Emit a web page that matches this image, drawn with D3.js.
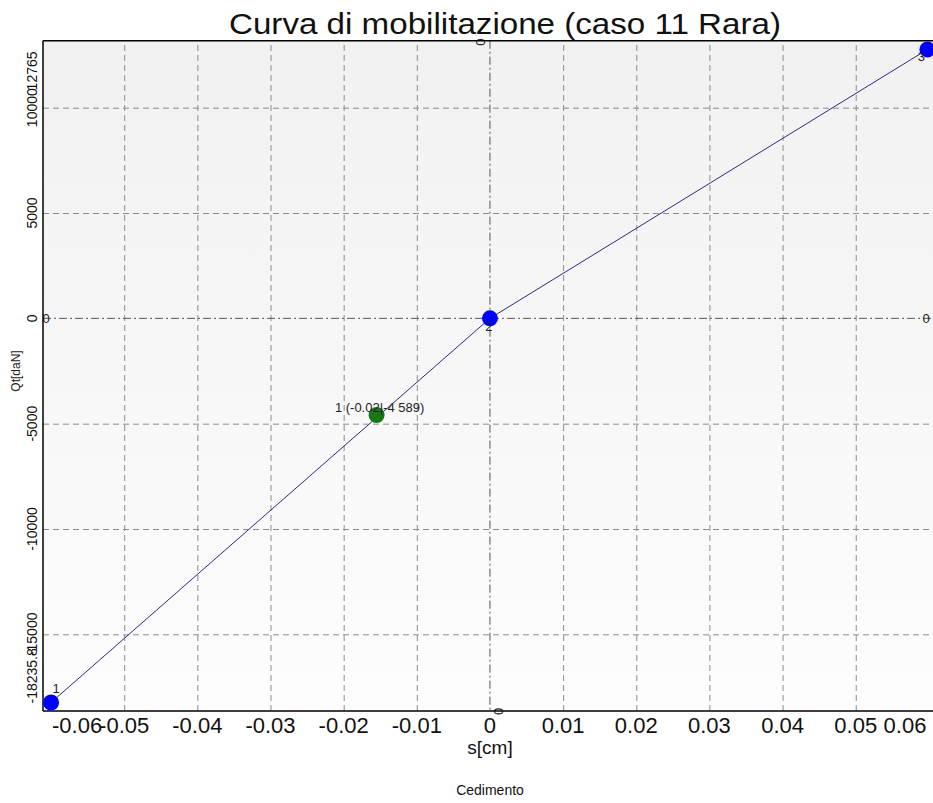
<!DOCTYPE html>
<html>
<head>
<meta charset="utf-8">
<script src="https://cdn.jsdelivr.net/npm/d3@7/dist/d3.min.js"></script>
<style>
  html, body { margin: 0; padding: 0; background: #ffffff; }
  svg { display: block; font-family: "Liberation Sans", Arial, sans-serif; }
</style>
</head>
<body>
<svg id="chart" width="933" height="803"></svg>
<script>
// ---- data ----
const titleText = "Curva di mobilitazione (caso 11 Rara)";
const xAxisTitle = "s[cm]";
const yAxisTitle = "Qt[daN]";
const bottomCaption = "Cedimento";

const sValues = [-0.0600, 0, 0.0598];          // s[cm]
const qtValues = [-18235.8, 0, 12765];         // Qt[daN]
const pointLabels = ["1", "2", "3"];

const highlightS = [-0.0155];
const highlightQt = [-4589];
const highlightLabels = ["1 (-0.02|-4 589)"];

const xTicks = [-0.05, -0.04, -0.03, -0.02, -0.01, 0, 0.01, 0.02, 0.03, 0.04, 0.05];
const xTickLabels = ["-0.05", "-0.04", "-0.03", "-0.02", "-0.01", "0", "0.01", "0.02", "0.03", "0.04", "0.05"];
const yTicks = [-15000, -10000, -5000, 0, 5000, 10000];
const yTickLabels = ["-15000", "-10000", "-5000", "0", "5000", "10000"];
const xExtremeLabels = ["-0.06", "0.06"];
const yExtremeLabels = ["-18235.8", "12765"];

// ---- layout ----
const svg = d3.select("#chart");
const pLeft = 43, pRight = 934, pTop = 40.7, pBottom = 711;

const x = d3.scaleLinear().domain([-0.0611, 0.0607]).range([pLeft, pRight]);
const y = d3.scaleLinear().domain([-18640, 13180]).range([pBottom, pTop]);

const defs = svg.append("defs");
const grad = defs.append("linearGradient").attr("id", "bg").attr("x1", 0).attr("y1", 0).attr("x2", 0).attr("y2", 1);
grad.append("stop").attr("offset", "0%").attr("stop-color", "#f1f1f1");
grad.append("stop").attr("offset", "100%").attr("stop-color", "#fdfdfd");
defs.append("clipPath").attr("id", "clip").append("rect")
  .attr("x", pLeft).attr("y", pTop).attr("width", pRight - pLeft).attr("height", pBottom - pTop);

svg.append("rect").attr("x", pLeft).attr("y", pTop).attr("width", pRight - pLeft).attr("height", pBottom - pTop)
  .attr("fill", "url(#bg)");

const plot = svg.append("g").attr("clip-path", "url(#clip)");

// grid (vertical)
const xGrid = d3.axisBottom(x).tickValues(xTicks.filter(d => d !== 0)).tickSize(-(pBottom - pTop)).tickFormat("");
plot.append("g").attr("transform", `translate(0,${pBottom})`).call(xGrid)
  .call(g => g.select(".domain").remove())
  .call(g => g.selectAll("line").attr("stroke", "#8c8c8c").attr("stroke-width", 1).attr("stroke-dasharray", "6,4"));
// grid (horizontal)
const yGrid = d3.axisLeft(y).tickValues(yTicks.filter(d => d !== 0)).tickSize(-(pRight - pLeft)).tickFormat("");
plot.append("g").attr("transform", `translate(${pLeft},0)`).call(yGrid)
  .call(g => g.select(".domain").remove())
  .call(g => g.selectAll("line").attr("stroke", "#8c8c8c").attr("stroke-width", 1).attr("stroke-dasharray", "6,4"));

// zero lines (dash-dot)
plot.append("line").attr("x1", pLeft).attr("x2", pRight).attr("y1", y(0)).attr("y2", y(0))
  .attr("stroke", "#555").attr("stroke-width", 1).attr("stroke-dasharray", "8,3,2,3");
plot.append("line").attr("x1", x(0)).attr("x2", x(0)).attr("y1", pTop).attr("y2", pBottom)
  .attr("stroke", "#555").attr("stroke-width", 1).attr("stroke-dasharray", "8,3,2,3");

// small "0" markers on zero lines
const zeroMarks = [
  {px: x(0) - 10, py: pTop + 1.5, rot: -90},
  {px: x(0) + 8, py: pBottom + 0.5, rot: -90},
  {px: pLeft + 3, py: y(0), rot: 0},
  {px: pRight - 8, py: y(0), rot: 0}
];
svg.selectAll(".zm").data(zeroMarks).enter().append("text")
  .attr("transform", d => `translate(${d.px},${d.py}) rotate(${d.rot})`)
  .attr("text-anchor", "middle").attr("dy", "0.35em")
  .attr("font-size", 13).attr("fill", "#222").text("0");

// line
const pts = sValues.map((s, i) => ({s, q: qtValues[i], label: pointLabels[i]}));
plot.append("path").datum(pts)
  .attr("d", d3.line().x(d => x(d.s)).y(d => y(d.q)))
  .attr("fill", "none").attr("stroke", "#2b2b85").attr("stroke-width", 1);

// border
svg.append("line").attr("x1", pLeft).attr("x2", pRight).attr("y1", pTop).attr("y2", pTop).attr("stroke", "#000").attr("stroke-width", 1.5);
svg.append("line").attr("x1", pLeft).attr("x2", pRight).attr("y1", pBottom).attr("y2", pBottom).attr("stroke", "#000").attr("stroke-width", 1.5);
svg.append("line").attr("x1", pLeft).attr("x2", pLeft).attr("y1", pTop).attr("y2", pBottom).attr("stroke", "#000").attr("stroke-width", 1.5);

// points
svg.selectAll(".pt").data(pts).enter().append("circle")
  .attr("cx", d => x(d.s)).attr("cy", d => y(d.q)).attr("r", 8)
  .attr("fill", "#0000ff");
const labelOffsets = [[5, -9], [-1, 13], [-6, 12]];
svg.selectAll(".pl").data(pts).enter().append("text")
  .attr("x", (d, i) => x(d.s) + labelOffsets[i][0]).attr("y", (d, i) => y(d.q) + labelOffsets[i][1])
  .attr("font-size", 13).attr("fill", "#222").attr("text-anchor", "middle").text(d => d.label);

// highlight point
const hl = highlightS.map((s, i) => ({s, q: highlightQt[i], label: highlightLabels[i]}));
svg.selectAll(".hl").data(hl).enter().append("circle")
  .attr("cx", d => x(d.s)).attr("cy", d => y(d.q)).attr("r", 8).attr("fill", "#187818");
svg.selectAll(".hlt").data(hl).enter().append("text")
  .attr("x", d => x(d.s) + 3).attr("y", d => y(d.q) - 3)
  .attr("text-anchor", "middle").attr("font-size", 13).attr("fill", "#222").text(d => d.label);

// x tick labels
svg.selectAll(".xt").data(xTicks).enter().append("text")
  .attr("x", d => x(d)).attr("y", 733)
  .attr("text-anchor", "middle").attr("font-size", 22).attr("fill", "#111")
  .text((d, i) => xTickLabels[i]);
svg.append("text").attr("x", x(sValues[0]) + 1).attr("y", 733).attr("text-anchor", "start")
  .attr("font-size", 22).attr("fill", "#111").text(xExtremeLabels[0]);
svg.append("text").attr("x", x(sValues[2]) - 1).attr("y", 733).attr("text-anchor", "end")
  .attr("font-size", 22).attr("fill", "#111").text(xExtremeLabels[1]);

// y tick labels (rotated)
svg.selectAll(".yt").data(yTicks).enter().append("text")
  .attr("transform", d => `translate(37,${y(d)}) rotate(-90)`)
  .attr("text-anchor", "middle").attr("font-size", 14).attr("fill", "#111")
  .text((d, i) => yTickLabels[i]);
svg.append("text").attr("transform", `translate(37,${y(qtValues[0]) + 1}) rotate(-90)`)
  .attr("text-anchor", "start").attr("font-size", 14).attr("fill", "#111").text(yExtremeLabels[0]);
svg.append("text").attr("transform", `translate(37,${y(qtValues[2]) + 2}) rotate(-90)`)
  .attr("text-anchor", "end").attr("font-size", 14).attr("fill", "#111").text(yExtremeLabels[1]);

// titles
svg.append("text").attr("x", 505).attr("y", 34).attr("text-anchor", "middle")
  .attr("font-size", 30).attr("fill", "#111")
  .attr("textLength", 552).attr("lengthAdjust", "spacingAndGlyphs").text(titleText);
svg.append("text").attr("x", 490).attr("y", 754).attr("text-anchor", "middle")
  .attr("font-size", 19).attr("fill", "#111").text(xAxisTitle);
svg.append("text").attr("transform", `translate(20,371) rotate(-90)`).attr("text-anchor", "middle")
  .attr("font-size", 12).attr("fill", "#222").text(yAxisTitle);
svg.append("text").attr("x", 490).attr("y", 795).attr("text-anchor", "middle")
  .attr("font-size", 14).attr("fill", "#111").text(bottomCaption);
</script>
</body>
</html>
